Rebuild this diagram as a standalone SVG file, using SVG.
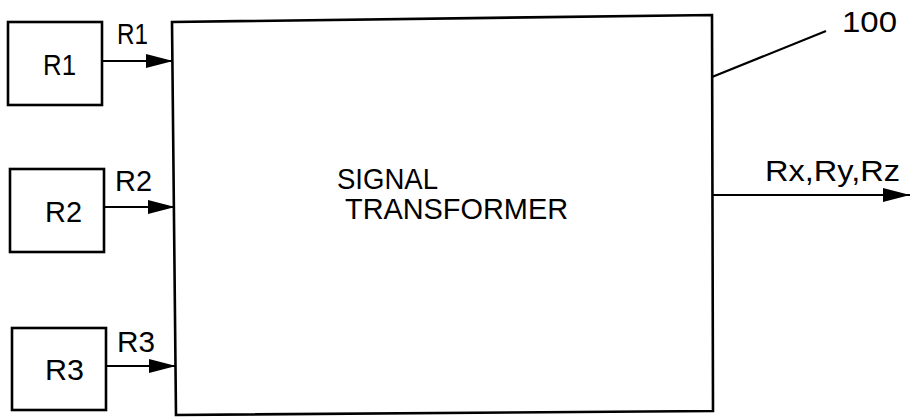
<svg xmlns="http://www.w3.org/2000/svg" width="911" height="417" viewBox="0 0 911 417">
<style>
.box{fill:none;stroke:#000;stroke-width:2.6}
.ln{fill:none;stroke:#000;stroke-width:2.2}
.t{font-family:"Liberation Sans",Arial,sans-serif;font-size:30px;fill:#000}
</style>
<defs>
<marker id="ah" markerWidth="27" markerHeight="14" refX="27" refY="7" orient="auto" markerUnits="userSpaceOnUse">
<path d="M0,0 L27,7 L0,14 Z" fill="#000"/>
</marker>
</defs>
<rect width="911" height="417" fill="#fff"/>
<g id="r1">
<rect class="box" x="8" y="22" width="94" height="83"/>
<text class="t" x="43" y="75" textLength="33" lengthAdjust="spacingAndGlyphs">R1</text>
</g>
<g id="r2">
<rect class="box" x="10" y="169" width="94" height="83"/>
<text class="t" x="45" y="222" textLength="37" lengthAdjust="spacingAndGlyphs">R2</text>
</g>
<g id="r3">
<rect class="box" x="12" y="328" width="94" height="82"/>
<text class="t" x="45" y="380" textLength="39" lengthAdjust="spacingAndGlyphs">R3</text>
</g>
<g id="transformer">
<polygon class="box" points="172,22 712,15 713,411 176,415"/>
<text class="t" x="337" y="189" textLength="101" lengthAdjust="spacingAndGlyphs">SIGNAL</text>
<text class="t" x="345" y="219" textLength="223" lengthAdjust="spacingAndGlyphs">TRANSFORMER</text>
</g>
<g id="connectors">
<line class="ln" x1="102" y1="61" x2="173" y2="61" marker-end="url(#ah)"/>
<line class="ln" x1="104" y1="207" x2="175" y2="207" marker-end="url(#ah)"/>
<line class="ln" x1="106" y1="366" x2="176" y2="366" marker-end="url(#ah)"/>
<line class="ln" x1="713" y1="195" x2="910" y2="195" marker-end="url(#ah)"/>
<line class="ln" x1="712" y1="77" x2="826" y2="31"/>
<text class="t" x="117" y="44" textLength="31" lengthAdjust="spacingAndGlyphs">R1</text>
<text class="t" x="115" y="191" textLength="37" lengthAdjust="spacingAndGlyphs">R2</text>
<text class="t" x="117" y="352" textLength="38" lengthAdjust="spacingAndGlyphs">R3</text>
<text class="t" x="765" y="181" textLength="135" lengthAdjust="spacingAndGlyphs">Rx,Ry,Rz</text>
<text class="t" x="842" y="32" textLength="55" lengthAdjust="spacingAndGlyphs">100</text>
</g>
</svg>
